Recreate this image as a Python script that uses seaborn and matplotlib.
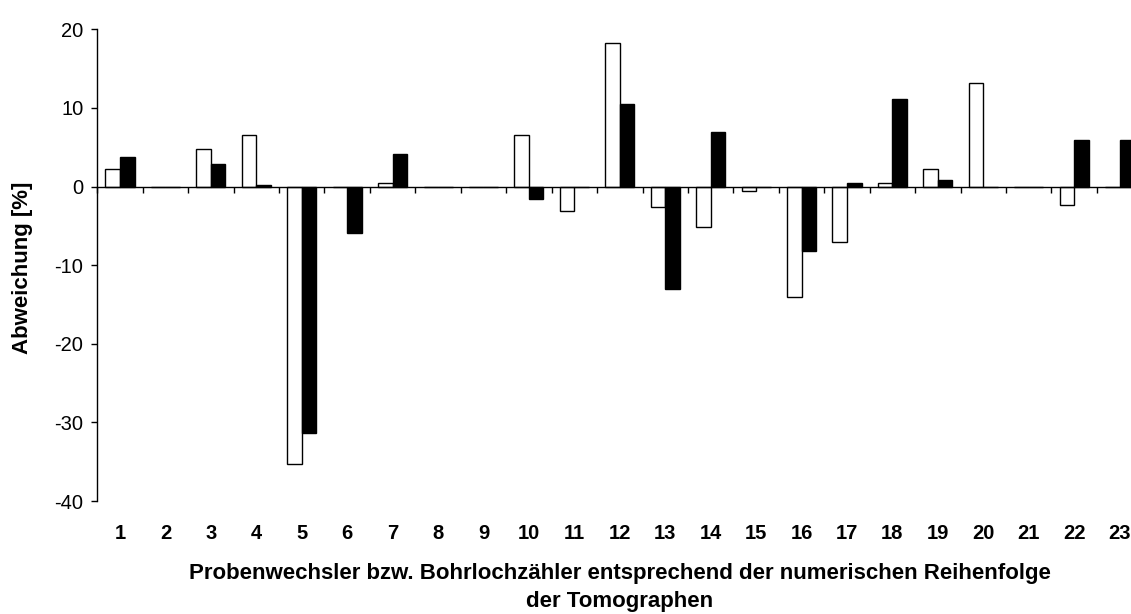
import numpy as np
import pandas as pd
import seaborn as sns
import matplotlib.pyplot as plt
from matplotlib.ticker import FixedLocator

# ---- data ----
categories = [str(i) for i in range(1, 24)]
probenwechsler = [2.2, 0, 4.8, 6.6, -35.3, 0, 0.5, 0, 0, 6.6, -3.1, 18.3,
                  -2.6, -5.1, -0.6, -14.0, -7.1, 0.5, 2.2, 13.2, 0, -2.3, 0]
bohrlochzaehler = [3.8, 0, 2.9, 0.2, -31.3, -5.9, 4.1, 0, 0, -1.6, 0, 10.5,
                   -13.0, 6.9, 0, -8.2, 0.5, 11.2, 0.8, 0, 0, 5.9, 5.9]
series_names = ["Probenwechsler", "Bohrlochzähler"]
y_ticks = [-40, -30, -20, -10, 0, 10, 20]

df = pd.DataFrame({
    "Tomograph": categories * 2,
    "Abweichung": probenwechsler + bohrlochzaehler,
    "Reihe": [series_names[0]] * len(categories) + [series_names[1]] * len(categories),
})

sns.set_style("white")
plt.rcParams["font.family"] = ["Liberation Sans", "DejaVu Sans"]
plt.rcParams["text.color"] = "black"
plt.rcParams["axes.labelcolor"] = "black"
plt.rcParams["xtick.color"] = "black"
plt.rcParams["ytick.color"] = "black"

fig = plt.figure(figsize=(11.31, 6.14), dpi=100)
ax = fig.add_axes([0.0860, 0.1840, 0.9240, 0.7682])

sns.barplot(data=df, x="Tomograph", y="Abweichung", hue="Reihe",
            order=categories, hue_order=series_names,
            palette=["white", "black"], saturation=1,
            edgecolor="black", linewidth=1.0, width=0.64,
            errorbar=None, legend=False, ax=ax)

ax.set_xlim(-0.5, len(categories) - 0.5)
ax.set_ylim(-40, 20)

# spines
for s in ["top", "right"]:
    ax.spines[s].set_visible(False)
ax.spines["bottom"].set_position(("data", 0))
ax.spines["bottom"].set_color("black")
ax.spines["left"].set_color("black")
ax.spines["bottom"].set_linewidth(1.0)
ax.spines["left"].set_linewidth(1.0)

# y axis
ax.set_yticks(y_ticks)
ax.set_yticklabels([str(v) for v in y_ticks], fontsize=14.5, color="black")
ax.tick_params(axis="y", which="major", direction="out", length=4, width=1.0,
               color="black", labelcolor="black", pad=6, left=True)

# x axis: tick marks at category boundaries, labels at bottom
ax.xaxis.set_minor_locator(FixedLocator(np.arange(-0.5, len(categories), 1.0)))
ax.tick_params(axis="x", which="minor", direction="out", length=4, width=1.0,
               color="black", bottom=True)
ax.tick_params(axis="x", which="major", length=0, pad=243, bottom=True,
               labelcolor="black")
for lab in ax.get_xticklabels():
    lab.set_fontsize(14.5)
    lab.set_fontweight("bold")
    lab.set_color("black")

ax.set_ylabel("Abweichung [%]", fontsize=16, fontweight="bold", color="black")
ax.yaxis.set_label_coords(-0.0615, 0.494)
ax.set_xlabel("Probenwechsler bzw. Bohrlochzähler entsprechend der numerischen Reihenfolge\nder Tomographen",
              fontsize=16, fontweight="bold", linespacing=1.45, color="black")
ax.xaxis.set_label_coords(0.5, -0.1304)
ax.grid(False)

fig.savefig("out.png", dpi=100)
